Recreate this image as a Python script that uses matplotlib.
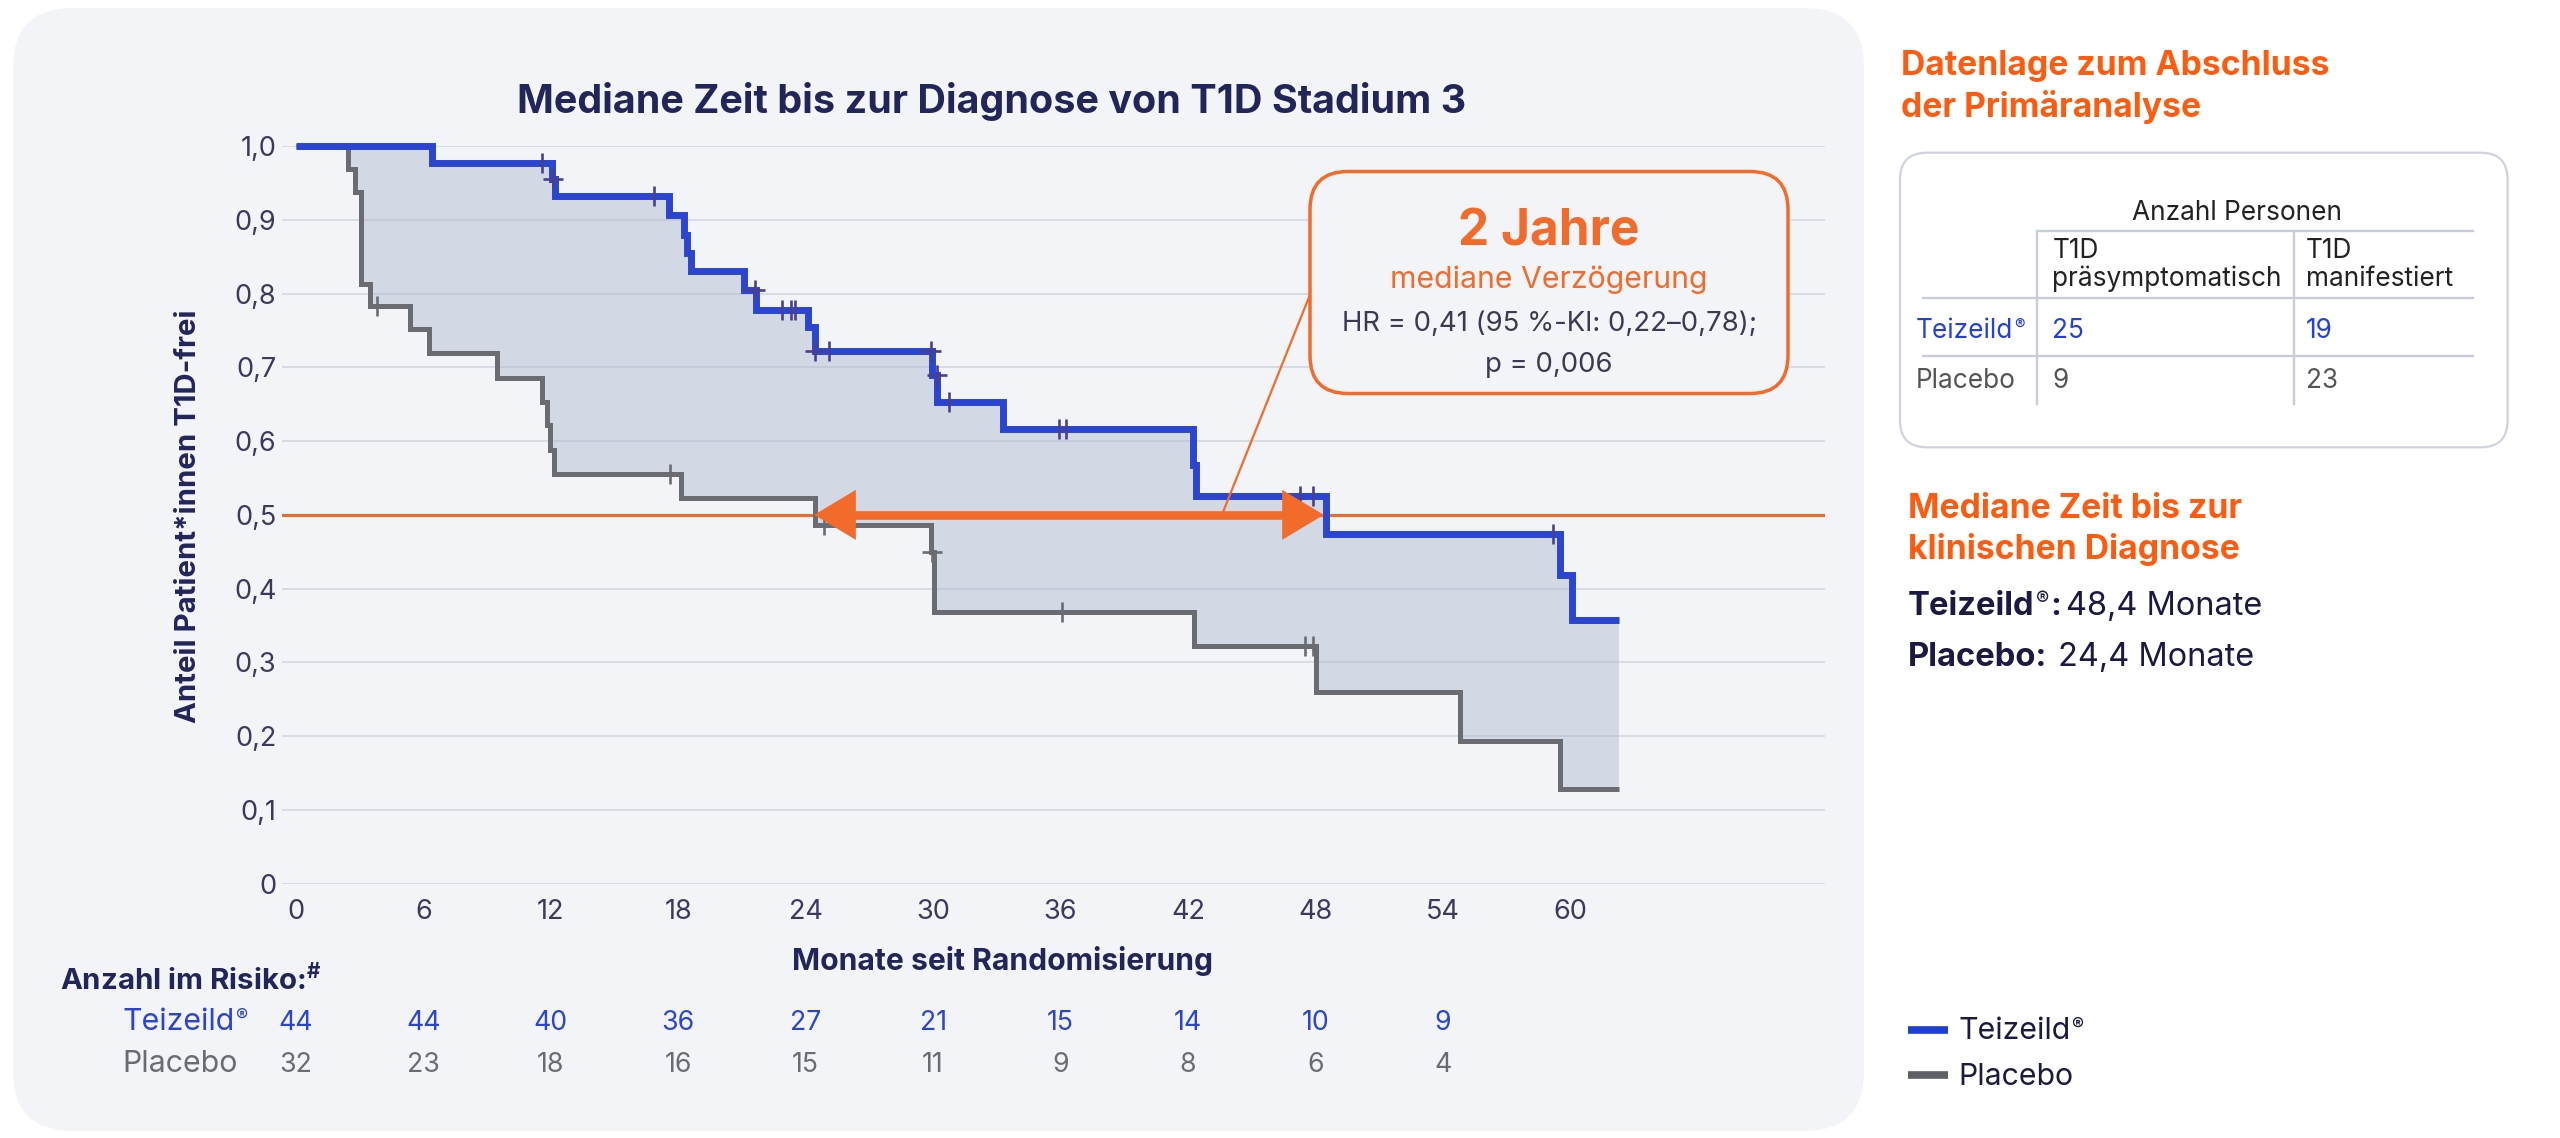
import numpy as np
import matplotlib
matplotlib.use("Agg")
import matplotlib.pyplot as plt
from matplotlib.patches import FancyBboxPatch, FancyArrowPatch, ConnectionPatch
from matplotlib.lines import Line2D
import matplotlib.transforms as mtrans

plt.rcParams['font.family'] = ['Inter', 'DejaVu Sans']
plt.rcParams['mathtext.fontset'] = 'custom'
plt.rcParams['mathtext.rm'] = 'Inter'
plt.rcParams['mathtext.bf'] = 'Inter:bold'

# ---------------- data ----------------
title = "Mediane Zeit bis zur Diagnose von T1D Stadium 3"
y_label = "Anteil Patient*innen T1D-frei"
x_label = "Monate seit Randomisierung"
x_ticks = [0, 6, 12, 18, 24, 30, 36, 42, 48, 54, 60]
y_ticks = [0.0, 0.1, 0.2, 0.3, 0.4, 0.5, 0.6, 0.7, 0.8, 0.9, 1.0]
y_tick_labels = ["0", "0,1", "0,2", "0,3", "0,4", "0,5", "0,6", "0,7", "0,8", "0,9", "1,0"]

teiz_time = [0, 6.4, 12.05, 12.2, 17.55, 18.25, 18.4, 18.6, 21.1, 21.65, 24.12, 24.45,
             29.95, 30.2, 33.3, 42.25, 42.4, 48.5, 59.5, 60.1, 62.3]
teiz_surv = [1.0, 0.977, 0.955, 0.932, 0.907, 0.880, 0.855, 0.830, 0.805, 0.778, 0.754, 0.722,
             0.689, 0.653, 0.617, 0.568, 0.526, 0.474, 0.419, 0.357, 0.357]
teiz_cens_time = [11.6, 12.1, 16.87, 21.6, 22.9, 23.3, 23.5, 24.45, 25.1, 29.9, 30.2, 30.75,
                  35.95, 36.25, 47.3, 47.9, 59.2]
teiz_cens_surv = [0.977, 0.955, 0.932, 0.805, 0.778, 0.778, 0.778, 0.722, 0.722, 0.722, 0.689,
                  0.653, 0.617, 0.617, 0.526, 0.526, 0.474]
teiz_cens_cross = [False, True, False, True, False, False, False, True, False, True, True,
                   False, False, False, False, False, False]

plac_time = [0, 2.45, 2.8, 3.06, 3.5, 5.35, 6.26, 9.47, 11.57, 11.8, 11.96, 12.15, 18.15,
             24.44, 29.92, 30.06, 42.28, 48.02, 54.82, 59.5, 62.3]
plac_surv = [1.0, 0.969, 0.9375, 0.8125, 0.783, 0.752, 0.719, 0.686, 0.653, 0.622, 0.588,
             0.556, 0.5225, 0.486, 0.449, 0.368, 0.3225, 0.260, 0.194, 0.129, 0.129]
plac_cens_time = [3.8, 17.6, 24.87, 29.95, 36.08, 47.5, 47.9]
plac_cens_surv = [0.783, 0.556, 0.486, 0.449, 0.368, 0.3225, 0.3225]
plac_cens_cross = [False, False, False, True, False, False, False]

median_level = 0.5
median_plac = 24.4
median_teiz = 48.4

risk_months = [0, 6, 12, 18, 24, 30, 36, 42, 48, 54]
risk_teiz = [44, 44, 40, 36, 27, 21, 15, 14, 10, 9]
risk_plac = [32, 23, 18, 16, 15, 11, 9, 8, 6, 4]

group_teiz = "Teizeild"
reg_mark = "®"
group_plac = "Placebo"

box_big = "2 Jahre"
box_sub = "mediane Verzögerung"
box_hr = "HR = 0,41 (95 %-KI: 0,22–0,78);"
box_p = "p = 0,006"

table_caption = "Anzahl Personen"
table_head = [["T1D", "präsymptomatisch"], ["T1D", "manifestiert"]]
table_teiz = [25, 19]
table_plac = [9, 23]

median_text_teiz = "48,4 Monate"
median_text_plac = "24,4 Monate"

# ---------------- style ----------------
PANEL = '#f3f4f8'
NAVY = '#21255a'
BLUE = '#2b45d1'
GREY = '#6a6c72'
ORANGE = '#f26b2b'
ORANGE_HEAD = '#ff5a0d'
GRID = '#d6d9e1'
TICK = '#3a3a5e'
CENS_BLUE = '#4a3f8f'

W, H = 2560, 1138
fig = plt.figure(figsize=(W / 100, H / 100), dpi=100)
fig.patch.set_facecolor('white')
rend = fig.canvas.get_renderer()

bg = fig.add_axes([0, 0, 1, 1], zorder=0)
bg.set_xlim(0, W); bg.set_ylim(H, 0); bg.axis('off')
bg.add_patch(FancyBboxPatch((13, 8), 1851, 1123, boxstyle='round,pad=0,rounding_size=60',
                            fc=PANEL, ec='none'))

AX_L, AX_R, AX_T, AX_B = 282, 1825, 146, 883.7
ax = fig.add_axes([AX_L / W, 1 - AX_B / H, (AX_R - AX_L) / W, (AX_B - AX_T) / H], zorder=1)
ax.patch.set_visible(False)
top = fig.add_axes([0, 0, 1, 1], zorder=2)
top.set_xlim(0, W); top.set_ylim(H, 0); top.axis('off')


def width_of(t):
    return t.get_window_extent(renderer=rend).width


def fit(t, target, others=(), vertical=False):
    bb = t.get_window_extent(renderer=rend)
    cur = bb.height if vertical else bb.width
    s = t.get_fontsize() * target / cur
    for a in (t,) + tuple(others):
        a.set_fontsize(s)
    return s


def reg_label(axis, x, y, fs, color, weight='normal', tail=''):
    """'Teizeild' + small raised ® + optional tail, left aligned at baseline y (pixel coords)."""
    t1 = axis.text(x, y, group_teiz, ha='left', va='baseline', fontsize=fs,
                   fontweight=weight, color=color)
    x2 = x + width_of(t1) + fs * 0.05
    fs_px = fs * 100 / 72
    t2 = axis.text(x2, y - fs_px * 0.30, reg_mark, ha='left', va='baseline', fontsize=fs * 0.6,
                   fontweight='normal', color=color)
    if tail:
        x3 = x2 + width_of(t2) + fs * 0.05
        axis.text(x3, y, tail, ha='left', va='baseline', fontsize=fs,
                  fontweight=weight, color=color)


# ---------------- main plot ----------------
ax.set_xlim(-0.66, 72)
ax.set_ylim(0, 1)
for sp in ax.spines.values():
    sp.set_visible(False)
ax.set_yticks(y_ticks)
ax.set_yticklabels(y_tick_labels)
ax.set_xticks(x_ticks)
ax.set_xticklabels([str(v) for v in x_ticks])
ax.tick_params(length=0, labelsize=19.5, colors=TICK, labelcolor=TICK)
ax.tick_params(axis='y', pad=4)
ax.tick_params(axis='x', pad=11)
ax.yaxis.grid(True, color=GRID, lw=1.3)
ax.xaxis.grid(False)
ax.set_axisbelow(True)

t_all = np.union1d(teiz_time, plac_time)
s_t = np.asarray(teiz_surv)[np.searchsorted(teiz_time, t_all, side='right') - 1]
s_p = np.asarray(plac_surv)[np.searchsorted(plac_time, t_all, side='right') - 1]
ax.fill_between(t_all, s_p, s_t, step='post', color='#a9b3cc', alpha=0.42, lw=0, zorder=1)

ax.axhline(median_level, color=ORANGE, lw=2.2, zorder=2)

ax.step(plac_time, plac_surv, where='post', color=GREY, lw=3.6, zorder=3,
        solid_joinstyle='miter', solid_capstyle='butt', clip_on=False)
ax.step(teiz_time, teiz_surv, where='post', color=BLUE, lw=5.0, zorder=4,
        solid_joinstyle='miter', solid_capstyle='butt', clip_on=False)

for ts, ss, cr, col in [(plac_cens_time, plac_cens_surv, plac_cens_cross, GREY),
                        (teiz_cens_time, teiz_cens_surv, teiz_cens_cross, CENS_BLUE)]:
    ts = np.asarray(ts); ss = np.asarray(ss); cr = np.asarray(cr)
    ax.plot(ts[~cr], ss[~cr], ls='none', marker='|', ms=14, mew=1.9, color=col, zorder=5)
    ax.plot(ts[cr], ss[cr], ls='none', marker='+', ms=14, mew=1.9, color=col, zorder=5)

# double arrow between medians
fig.canvas.draw()
px_per_month = (ax.transData.transform((1, 0))[0] - ax.transData.transform((0, 0))[0])
head_len_pt = 30
head_len_m = head_len_pt * 100 / 72 / px_per_month
ax.plot([median_plac + head_len_m * 0.9, median_teiz - head_len_m * 0.9],
        [median_level, median_level], color=ORANGE, lw=6.2, solid_capstyle='butt', zorder=6)
arr = FancyArrowPatch((median_plac, median_level), (median_teiz, median_level),
                      arrowstyle=f'<|-|>,head_length={head_len_pt},head_width=18',
                      mutation_scale=1, lw=0, fc=ORANGE, ec='none', shrinkA=0, shrinkB=0, zorder=7)
ax.add_patch(arr)

# ---------------- texts in the panel ----------------
t = bg.text(992, 113, title, ha='center', va='baseline', fontsize=28, fontweight='bold', color=NAVY)
fit(t, 948)
t = bg.text(189, 516.7, y_label, rotation=90, ha='center', va='center', fontsize=18,
            fontweight='bold', color=NAVY)
fit(t, 412, vertical=True)
t = bg.text(1002, 970, x_label, ha='center', va='baseline', fontsize=20, fontweight='bold', color=NAVY)
fit(t, 421)

t = bg.text(60, 990, "Anzahl im Risiko:$^{\\mathregular{\\#}}$", ha='left', va='baseline',
            fontsize=19, fontweight='bold', color=NAVY)
fit(t, 262)
tl2 = bg.text(122, 1072, group_plac, ha='left', va='baseline', fontsize=19, color=GREY)
fs_row = fit(tl2, 115.5)
reg_label(bg, 122, 1030, fs_row, BLUE)

blend = mtrans.blended_transform_factory(ax.transData, bg.transData)
nums = []
for m, a, b in zip(risk_months, risk_teiz, risk_plac):
    nums.append(bg.text(m, 1030, str(a), transform=blend, ha='center', va='baseline',
                        fontsize=19, color=BLUE))
    nums.append(bg.text(m, 1072, str(b), transform=blend, ha='center', va='baseline',
                        fontsize=19, color=GREY))
fit(nums[0], 34.4, others=tuple(nums[1:]))

# ---------------- callout box ----------------
top.add_patch(FancyBboxPatch((1310, 171.5), 478, 222, boxstyle='round,pad=0,rounding_size=38',
                             fc=PANEL, ec=ORANGE, lw=2.5))
t = top.text(1549, 245, box_big, ha='center', va='baseline', fontsize=32, fontweight='bold', color=ORANGE)
fit(t, 181)
t = top.text(1549, 288, box_sub, ha='center', va='baseline', fontsize=18, color=ORANGE)
fit(t, 316)
t1 = top.text(1549, 331, box_hr, ha='center', va='baseline', fontsize=18, color='#3a3a52')
t2 = top.text(1549, 372, box_p, ha='center', va='baseline', fontsize=18, color='#3a3a52')
fit(t1, 416, others=(t2,))
con = ConnectionPatch(xyA=(43.6, median_level), coordsA=ax.transData,
                      xyB=(1310, 294.7), coordsB=top.transData, color=ORANGE, lw=1.6, zorder=8)
top.add_artist(con)

# ---------------- right side ----------------
h1 = bg.text(1900.7, 75, "Datenlage zum Abschluss", ha='left', va='baseline', fontsize=22,
             fontweight='bold', color=ORANGE_HEAD)
h2 = bg.text(1900.7, 117, "der Primäranalyse", ha='left', va='baseline', fontsize=22,
             fontweight='bold', color=ORANGE_HEAD)
fit(h1, 428, others=(h2,))

bg.add_patch(FancyBboxPatch((1900, 152.7), 607.6, 294.6, boxstyle='round,pad=0,rounding_size=27',
                            fc='white', ec='#ced3df', lw=1.6))
LC = '#c8cddb'
bg.add_line(Line2D([2036.6, 2473], [231.3, 231.3], color=LC, lw=1.7))
bg.add_line(Line2D([1922.5, 2473], [298.2, 298.2], color=LC, lw=1.7))
bg.add_line(Line2D([1922.5, 2473], [355.8, 355.8], color=LC, lw=1.7))
bg.add_line(Line2D([2036.6, 2036.6], [231.3, 404], color=LC, lw=1.7))
bg.add_line(Line2D([2293.8, 2293.8], [231.3, 404], color=LC, lw=1.7))

tt = []
tt.append(bg.text(2237, 220, table_caption, ha='center', va='baseline', fontsize=16, color='#222'))
col_x = [2052.4, 2306]
ref = None
for cx, (l1, l2) in zip(col_x, table_head):
    tt.append(bg.text(cx, 258, l1, ha='left', va='baseline', fontsize=16, color='#222'))
    tx = bg.text(cx, 285.7, l2, ha='left', va='baseline', fontsize=16, color='#222')
    tt.append(tx)
    if ref is None:
        ref = tx
tt.append(bg.text(1915.7, 387.5, group_plac, ha='left', va='baseline', fontsize=16, color='#555'))
for cx, a, b in zip(col_x, table_teiz, table_plac):
    tt.append(bg.text(cx, 338, str(a), ha='left', va='baseline', fontsize=16, color='#2340dd'))
    tt.append(bg.text(cx, 387.5, str(b), ha='left', va='baseline', fontsize=16, color='#555'))
fs_tab = fit(ref, 230, others=tuple(x for x in tt if x is not ref))
reg_label(bg, 1915.7, 338, fs_tab, '#2340dd')

m1 = bg.text(1908, 518, "Mediane Zeit bis zur", ha='left', va='baseline', fontsize=22,
             fontweight='bold', color=ORANGE_HEAD)
m2 = bg.text(1908, 559, "klinischen Diagnose", ha='left', va='baseline', fontsize=22,
             fontweight='bold', color=ORANGE_HEAD)
fit(m2, 331, others=(m1,))

DARK = '#1a1a42'
b2 = bg.text(1908, 666, group_plac + ":", ha='left', va='baseline', fontsize=20,
             fontweight='bold', color=DARK)
fs_med = fit(b2, 140)
reg_label(bg, 1908, 615, fs_med, DARK, weight='bold', tail=':')
r1 = bg.text(2066.5, 615, median_text_teiz, ha='left', va='baseline', fontsize=20, color=DARK)
r2 = bg.text(2058.3, 666, median_text_plac, ha='left', va='baseline', fontsize=20, color=DARK)
fit(r1, 196.5, others=(r2,))

# legend
bg.add_line(Line2D([1908, 1948], [1030, 1030], color='#1f3fd0', lw=5.5, solid_capstyle='butt'))
bg.add_line(Line2D([1908, 1948], [1075, 1075], color='#5f6066', lw=5.5, solid_capstyle='butt'))
g2 = bg.text(1958, 1085, group_plac, ha='left', va='baseline', fontsize=18, color=DARK)
fs_leg = fit(g2, 115)
reg_label(bg, 1958, 1039, fs_leg, DARK)

fig.savefig('out.png', dpi=100, facecolor='white')
